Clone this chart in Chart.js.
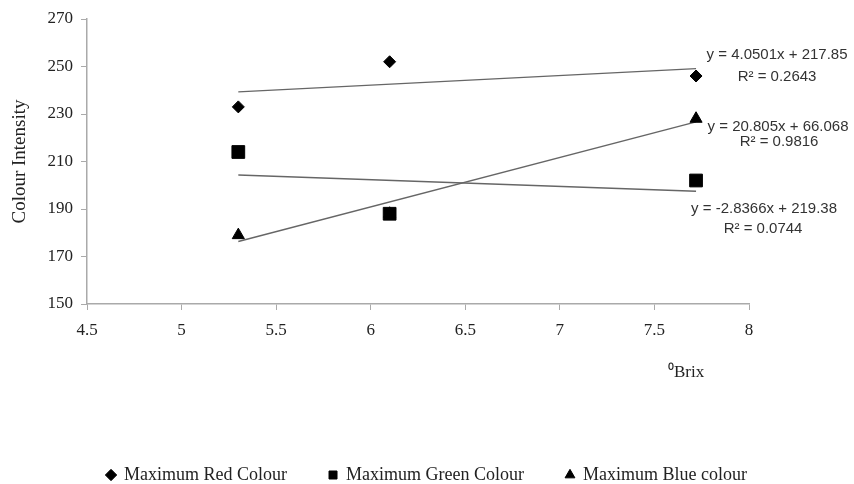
<!DOCTYPE html>
<html>
<head>
<meta charset="utf-8">
<script src="https://cdn.jsdelivr.net/npm/chart.js@4/dist/chart.umd.min.js"></script>
<style>
  html, body { margin: 0; padding: 0; background: #fff; }
  #wrap { width: 854px; height: 484px; }
</style>
</head>
<body>
<div id="wrap"><canvas id="chart" width="854" height="484"></canvas></div>
<script>
// values
const brix = [5.3, 6.1, 7.72];
const redValues = [233, 252, 246];
const greenValues = [214, 188, 202];
const blueValues = [179, 188, 228]; // middle one sits behind the square
const seriesNames = ['Maximum Red Colour', 'Maximum Green Colour', 'Maximum Blue colour'];

// trendline coefficients printed on the chart (red, green, blue)
const slopes = [4.0501, -2.8366, 20.805];
const intercepts = [217.85, 219.38, 66.068];
const rSquared = ['0.2643', '0.0744', '0.9816'];

const xTicks = [4.5, 5, 5.5, 6, 6.5, 7, 7.5, 8];
const yTicks = [150, 170, 190, 210, 230, 250, 270];

const serif = "'Liberation Serif', 'Times New Roman', serif";
const sans = "'Liberation Sans', Arial, sans-serif";

function pts(ys) {
    return brix.map((x, i) => ({ x: x, y: ys[i] }));
}

function trend(k) {
    const x0 = brix[0], x1 = brix[brix.length - 1];
    return [
        { x: x0, y: slopes[k] * x0 + intercepts[k] },
        { x: x1, y: slopes[k] * x1 + intercepts[k] }
    ];
}

function eqText(k) {
    const s = slopes[k] < 0 ? '-' + Math.abs(slopes[k]) : '' + slopes[k];
    return 'y = ' + s + 'x + ' + intercepts[k];
}

// equation labels next to the last point of each series, plus the x axis title
const eqLabels = {
    id: 'eqLabels',
    afterDatasetsDraw(chart) {
        const ctx = chart.ctx;
        const xs = chart.scales.x, ys = chart.scales.y;
        const last = brix.length - 1;
        const px = xs.getPixelForValue(brix[last]);
        const anchors = [
            { y: ys.getPixelForValue(redValues[last]), dx1: 81, dy1: -21, dx2: 81, dy2: 1 },
            { y: ys.getPixelForValue(greenValues[last]), dx1: 68, dy1: 28, dx2: 67, dy2: 48 },
            { y: ys.getPixelForValue(blueValues[last]), dx1: 82, dy1: 8, dx2: 83, dy2: 23 }
        ];
        ctx.save();
        ctx.fillStyle = '#333';
        ctx.font = '15px ' + sans;
        ctx.textAlign = 'center';
        ctx.textBaseline = 'middle';
        anchors.forEach((a, k) => {
            ctx.fillText(eqText(k), px + a.dx1, a.y + a.dy1);
            ctx.fillText('R\u00B2 = ' + rSquared[k], px + a.dx2, a.y + a.dy2);
        });
        ctx.fillStyle = '#222';
        ctx.font = '17px ' + serif;
        ctx.textAlign = 'left';
        ctx.fillText('\u2070Brix', 668, 373);
        ctx.restore();
    }
};

const ctx = document.getElementById('chart').getContext('2d');
new Chart(ctx, {
    type: 'scatter',
    data: {
        datasets: [
            { label: seriesNames[0], data: pts(redValues), pointStyle: 'rectRot', pointRadius: 6,
              backgroundColor: '#000', borderColor: '#000', order: 1 },
            { label: seriesNames[1], data: pts(greenValues), pointStyle: 'rect', pointRadius: 9,
              backgroundColor: '#000', borderColor: '#000', order: 0 },
            { label: seriesNames[2], data: pts(blueValues), pointStyle: 'triangle', pointRadius: 7,
              backgroundColor: '#000', borderColor: '#000', order: 2 },
            { label: 'trend0', data: trend(0), showLine: true, pointRadius: 0, borderColor: '#666', borderWidth: 1.4, order: 3 },
            { label: 'trend1', data: trend(1), showLine: true, pointRadius: 0, borderColor: '#666', borderWidth: 1.4, order: 3 },
            { label: 'trend2', data: trend(2), showLine: true, pointRadius: 0, borderColor: '#666', borderWidth: 1.4, order: 3 }
        ]
    },
    options: {
        responsive: false,
        animation: false,
        layout: { padding: { top: 19, right: 0, bottom: -10, left: 0 } },
        plugins: {
            tooltip: { enabled: false },
            legend: {
                position: 'bottom',
                labels: {
                    filter: item => item.text.indexOf('trend') !== 0,
                    sort: (a, b) => a.datasetIndex - b.datasetIndex,
                    usePointStyle: true,
                    boxWidth: 8,
                    boxHeight: 8,
                    padding: 42,
                    color: '#222',
                    font: { family: serif, size: 18 }
                }
            }
        },
        scales: {
            x: {
                type: 'linear',
                min: 4.5,
                max: 8,
                afterBuildTicks: s => { s.ticks = xTicks.map(v => ({ value: v })); },
                afterFit: s => { s.height = 120; },
                border: { color: '#aaa', width: 1.5 },
                grid: { drawOnChartArea: false, color: '#aaa', tickLength: 6 },
                ticks: { color: '#222', padding: 10, font: { family: serif, size: 17 },
                         callback: v => String(v) }
            },
            y: {
                min: 150,
                max: 270,
                afterBuildTicks: s => { s.ticks = yTicks.map(v => ({ value: v })); },
                afterFit: s => { s.width = 87; },
                border: { color: '#aaa', width: 1.5 },
                grid: { drawOnChartArea: false, color: '#aaa', tickLength: 6 },
                ticks: { color: '#222', padding: 8, font: { family: serif, size: 17 } },
                title: {
                    display: true,
                    text: 'Colour Intensity',
                    color: '#222',
                    padding: { top: 9, bottom: 0 },
                    font: { family: serif, size: 19 }
                }
            },
            // blank strip on the right for the equation labels
            yRight: {
                position: 'right',
                afterFit: s => { s.width = 105; },
                border: { display: false },
                grid: { display: false },
                ticks: { display: false }
            }
        }
    },
    plugins: [eqLabels]
});
</script>
</body>
</html>
